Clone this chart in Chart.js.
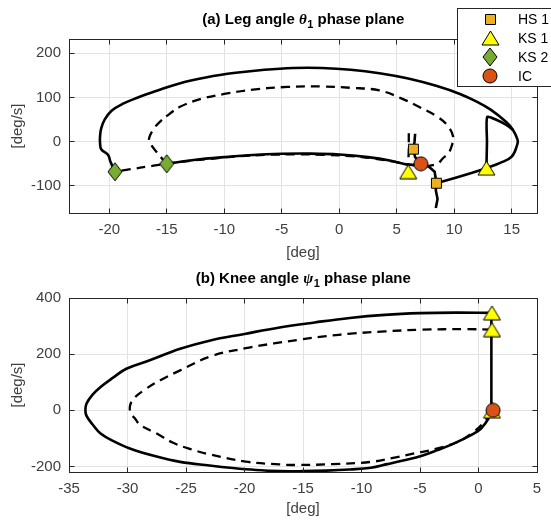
<!DOCTYPE html>
<html>
<head>
<meta charset="utf-8">
<script src="https://cdn.jsdelivr.net/npm/chart.js"></script>
<style>
  body { margin: 0; background: #fff; }
  .panel { position: absolute; left: 0; }
</style>
</head>
<body>
<canvas id="leg" class="panel" width="551" height="262" style="top:0"></canvas>
<canvas id="knee" class="panel" width="551" height="260" style="top:262px"></canvas>
<script>
const FONT = '"Liberation Sans", Arial, Helvetica, sans-serif';
Chart.defaults.font.family = FONT;

// ---- (a) leg angle phase plane  [deg] vs [deg/s]
const legXTicks = [-20, -15, -10, -5, 0, 5, 10, 15];
const legYTicks = [-100, 0, 100, 200];

// solid: KS2 up the left side, over the top, down to KS1
const legSolidOuter = [[-19.5,-68],[-19.9,-45],[-20.1,-30],[-20.7,-17],[-20.8,-3],[-20.8,12],[-20.7,30],
  [-20.4,50],[-19.8,70],[-18.8,86],[-17.5,100],[-16,114],[-13.9,132],[-11.5,146],[-9,156],[-6.5,163],
  [-4,167],[-1.5,167],[1,163],[3.5,155],[6,143],[8.5,126],[10.5,108],[12,90],[13.2,72],[14.5,45],
  [15.1,27],[15.5,5],[15.5,-5],[15.0,-34],[14.0,-48],[12.8,-60]];
const legSolidTail = [[12.8,-60],[11.5,-71],[10.2,-81],[8.45,-94],[8.4,-110],[8.55,-130],[8.4,-150]];
const legSolidKnee = [[12.8,-60],[12.85,0],[12.87,56],[13.8,48],[14.6,37],[15.1,27]];
const legSolidStance = [[6.6,18],[6.55,0],[6.45,-17],[6.6,-35],[7.1,-50],[7.8,-57],[8.3,-68],[8.45,-94]];
const legSolidLower = [[-15,-50],[-12.5,-41],[-10,-35],[-7.5,-30],[-5,-27.5],[-2.5,-27],[0,-29],
  [2.5,-35],[4.5,-43],[6,-52],[7.1,-50]];
// dashed
const legDashInner = [[-15,-50],[-15.9,-23],[-16.5,0],[-16.5,11],[-16.1,30],[-15.6,45],[-14.8,62],
  [-13.85,79],[-12,97],[-10,108],[-7.5,118],[-4.5,124],[-1.5,125],[1,122],[3.5,116],[5.5,97],[7,78],
  [8.5,57],[9.4,37],[9.9,12],[9.8,-8],[9.5,-26],[9.0,-38],[8.6,-49],[7.8,-55]];
const legDashLower = [[7.8,-55],[6.8,-55],[5.5,-49],[4,-42],[2,-35],[0,-31],[-2.5,-29],[-5,-29],
  [-7.5,-31],[-10,-36],[-12.5,-42],[-15,-50],[-17.3,-59],[-19.5,-68]];
const legDashStance = [[6.05,19],[6.05,-20],[6.0,-50],[6.0,-68]];
// events
const legHS1 = [[6.45,-17],[8.45,-94]];
const legKS1 = [[6.0,-68],[12.8,-60]];
const legKS2 = [[-19.5,-68],[-15.0,-50]];
const legIC = [[7.1,-50]];

// ---- (b) knee angle phase plane
const kneeXTicks = [-35, -30, -25, -20, -15, -10, -5, 0, 5];
const kneeYTicks = [-200, 0, 200, 400];

const kneeSolid = [[1.1,0],[0.93,-24],[0.22,-65],[-0.64,-89],[-2.07,-118],[-3.5,-142],[-4.9,-163],
  [-6.35,-178],[-7.8,-192],[-9.2,-205],[-11,-211],[-13,-215],[-15,-217],[-17,-217],[-19,-213],
  [-21,-206],[-23,-197],[-25.5,-184],[-27.5,-165],[-29.8,-136],[-31.2,-110],[-32.3,-83],[-33,-50],
  [-33.5,-20],[-33.6,0],[-33.5,24],[-33,55],[-32.3,83],[-31.2,117],[-30.1,148],[-28.1,178],
  [-25.5,219],[-23,248],[-20,272],[-17,295],[-14,313],[-11,329],[-8,340],[-5,346],[-2,348],[1.1,347]];
const kneeSolidVert = [[1.1,0],[1.1,347]];
const kneeDash = [[1.1,287],[-1,289],[-4.9,287],[-8,281],[-10.9,273],[-13,264],[-15.4,251],
  [-17.5,238],[-19.9,221],[-22.9,192],[-25.5,142],[-27.2,107],[-28.6,71],[-29.5,40],[-29.8,12],
  [-29.7,-10],[-29.3,-33],[-28.9,-53],[-27.5,-83],[-26.1,-116],[-24.5,-140],[-22.9,-158],
  [-19.9,-183],[-17,-193],[-15.4,-195],[-12.5,-192],[-9.2,-184],[-7.3,-170],[-5.5,-154],
  [-3.5,-136],[-1.8,-113],[-0.5,-80],[0.5,-40],[1.1,0]];
const kneeKS1 = [[1.15,347],[1.15,287],[1.15,-3]];
const kneeIC = [[1.25,0]];

const legendLabels = ['HS 1', 'KS 1', 'KS 2', 'IC'];

function pts(list) { return list.map(p => ({x: p[0], y: p[1]})); }

function marker(kind, w, h, fill) {
  const c = document.createElement('canvas');
  c.width = w + 2; c.height = h + 2;
  const g = c.getContext('2d');
  g.fillStyle = fill; g.strokeStyle = '#000'; g.lineWidth = 1;
  const W = c.width, H = c.height;
  g.beginPath();
  if (kind === 'square') g.rect(1.5, 1.5, w - 1, h - 1);
  else if (kind === 'triangle') { g.moveTo(W / 2, 1); g.lineTo(W - 1, H - 1); g.lineTo(1, H - 1); g.closePath(); }
  else if (kind === 'diamond') { g.moveTo(W / 2, 1); g.lineTo(W - 1, H / 2); g.lineTo(W / 2, H - 1); g.lineTo(1, H / 2); g.closePath(); }
  else g.arc(W / 2, H / 2, w / 2, 0, Math.PI * 2);
  g.fill(); g.stroke();
  return c;
}
const sqImg = marker('square', 11, 11, '#EDB120');
const triImg = marker('triangle', 17, 14, '#FFFF00');
const diaImg = marker('diamond', 14, 18, '#77AC30');
const icImg = marker('circle', 14, 14, '#D95319');
const legendImgs = [sqImg, triImg, diaImg, icImg];

function curve(list, dashed, tension) {
  return { data: pts(list), showLine: true, borderColor: '#000', borderWidth: dashed ? 2.3 : 2.6,
    borderDash: dashed ? [9, 6] : [], borderJoinStyle: 'round', tension: tension, pointRadius: 0, order: 5 };
}
function marks(list, img, order) {
  return { data: pts(list), showLine: false, pointStyle: img, pointRadius: 7, order: order };
}

function drawTitle(ctx, cx, cy, t) {
  const fMain = 'bold 15px ' + FONT;
  const fGreek = 'italic bold 15px "Liberation Serif", "DejaVu Serif", serif';
  const fSub = 'bold 11px ' + FONT;
  ctx.font = fMain; const w1 = ctx.measureText(t.pre).width, w4 = ctx.measureText(t.post).width;
  ctx.font = fGreek; const w2 = ctx.measureText(t.greek).width;
  ctx.font = fSub; const w3 = ctx.measureText(t.sub).width;
  let x = cx - (w1 + w2 + w3 + w4) / 2;
  const base = cy + 5;
  ctx.fillStyle = '#000'; ctx.textAlign = 'left'; ctx.textBaseline = 'alphabetic';
  ctx.font = fMain; ctx.fillText(t.pre, x, base); x += w1;
  ctx.font = fGreek; ctx.fillText(t.greek, x, base); x += w2 + 0.5;
  ctx.font = fSub; ctx.fillText(t.sub, x, base + 4); x += w3;
  ctx.font = fMain; ctx.fillText(t.post, x, base);
}

function drawLegend(ctx) {
  ctx.fillStyle = '#fff'; ctx.strokeStyle = '#262626'; ctx.lineWidth = 1;
  ctx.fillRect(457.5, 8.5, 110, 78); ctx.strokeRect(457.5, 8.5, 110, 78);
  ctx.font = '14px ' + FONT; ctx.fillStyle = '#000';
  ctx.textAlign = 'left'; ctx.textBaseline = 'middle';
  legendLabels.forEach((lab, i) => {
    const y = 19 + i * 19;
    const img = legendImgs[i];
    ctx.drawImage(img, Math.round(490 - img.width / 2), Math.round(y - img.height / 2));
    ctx.fillText(lab, 518, y + 1);
  });
}

const frame = {
  id: 'frame',
  afterDraw(chart, args, opts) {
    const {ctx, chartArea: a, scales} = chart;
    const al = v => Math.round(v - 0.5) + 0.5;
    ctx.save();
    ctx.strokeStyle = '#262626'; ctx.lineWidth = 1;
    const L = al(a.left), R = al(a.right), T = al(a.top), B = al(a.bottom);
    ctx.strokeRect(L, T, R - L, B - T);
    ctx.beginPath();
    scales.x.ticks.forEach(t => {
      const p = al(scales.x.getPixelForValue(t.value));
      ctx.moveTo(p, B); ctx.lineTo(p, B - 5); ctx.moveTo(p, T); ctx.lineTo(p, T + 5);
    });
    scales.y.ticks.forEach(t => {
      const p = al(scales.y.getPixelForValue(t.value));
      ctx.moveTo(L, p); ctx.lineTo(L + 5, p); ctx.moveTo(R, p); ctx.lineTo(R - 5, p);
    });
    ctx.stroke();
    drawTitle(ctx, (a.left + a.right) / 2, opts.titleY, opts.title);
    if (opts.legend) drawLegend(ctx);
    ctx.restore();
  }
};

function axes(xr, xt, yr, yt, xh, xTitlePad) {
  const f = {size: 15, family: FONT};
  return {
    x: { type: 'linear', min: xr[0], max: xr[1],
      afterBuildTicks: s => { s.ticks = xt.map(v => ({value: v})); },
      afterFit: s => { s.height = xh; },
      grid: {color: '#e3e3e3', drawTicks: false},
      border: {display: false},
      ticks: {color: '#404040', font: f, padding: 8, autoSkip: false, maxRotation: 0, callback: v => String(v)},
      title: {display: true, text: '[deg]', color: '#404040', font: f, padding: {top: 0, bottom: xTitlePad}}
    },
    y: { type: 'linear', min: yr[0], max: yr[1],
      afterBuildTicks: s => { s.ticks = yt.map(v => ({value: v})); },
      afterFit: s => { s.width = 69; },
      grid: {color: '#e3e3e3', drawTicks: false},
      border: {display: false},
      ticks: {color: '#404040', font: f, padding: 8, autoSkip: false, callback: v => String(v)},
      title: {display: true, text: '[deg/s]', color: '#404040', font: f, padding: {top: 9, bottom: 0}}
    }
  };
}

function baseOptions(pad, scales, frameOpts) {
  return {
    responsive: false, animation: false, devicePixelRatio: 1, events: [],
    layout: {padding: pad},
    scales: scales,
    plugins: {legend: {display: false}, tooltip: {enabled: false}, frame: frameOpts}
  };
}

new Chart('leg', {
  type: 'scatter',
  data: { datasets: [
    marks(legIC, icImg, 0),
    marks(legHS1, sqImg, 1),
    marks(legKS1, triImg, 1),
    marks(legKS2, diaImg, 1),
    curve(legSolidOuter, false, 0.4),
    curve(legSolidTail, false, 0),
    curve(legSolidKnee, false, 0.2),
    curve(legSolidStance, false, 0),
    curve(legSolidLower, false, 0.3),
    curve(legDashInner, true, 0.4),
    curve(legDashLower, true, 0.3),
    curve(legDashStance, true, 0)
  ]},
  options: baseOptions({left: 0, right: 14, top: 39, bottom: 0},
    axes([-23.5, 17.2], legXTicks, [-161.5, 232.5], legYTicks, 49, 0),
    {titleY: 19, legend: true, title: {pre: '(a) Leg angle ', greek: '\u03B8', sub: '1', post: ' phase plane'}}),
  plugins: [frame]
});

new Chart('knee', {
  type: 'scatter',
  data: { datasets: [
    marks(kneeIC, icImg, 0),
    marks(kneeKS1, triImg, 1),
    curve(kneeSolid, false, 0.4),
    curve(kneeSolidVert, false, 0),
    curve(kneeDash, true, 0.4)
  ]},
  options: baseOptions({left: 0, right: 14, top: 36, bottom: 0},
    axes([-35, 5], kneeXTicks, [-220, 400], kneeYTicks, 50, 4),
    {titleY: 15.5, legend: false, title: {pre: '(b) Knee angle ', greek: '\u03C8', sub: '1', post: ' phase plane'}}),
  plugins: [frame]
});
</script>
</body>
</html>
